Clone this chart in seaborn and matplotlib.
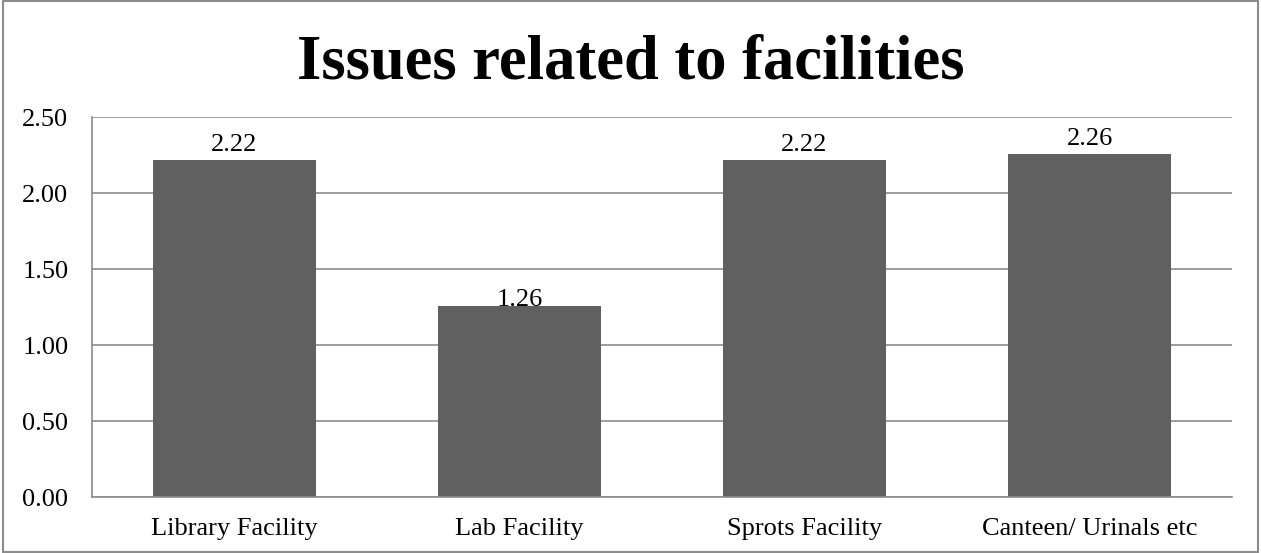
import matplotlib
matplotlib.use("Agg")
import matplotlib.pyplot as plt
import seaborn as sns
import pandas as pd
from matplotlib.patches import Rectangle

categories = ["Library Facility", "Lab Facility", "Sprots Facility", "Canteen/ Urinals etc"]
values = [2.22, 1.26, 2.22, 2.26]
yticks = [0.0, 0.5, 1.0, 1.5, 2.0, 2.5]

sns.set_theme(style="white")
plt.rcParams["font.family"] = ["Liberation Serif", "DejaVu Serif"]

df = pd.DataFrame({"category": categories, "value": values})

fig = plt.figure(figsize=(12.61, 5.53), dpi=100)
ax = fig.add_axes([0.073, 0.101, 0.904, 0.687])

sns.barplot(data=df, x="category", y="value", color="#606060", saturation=1,
            width=0.57, ax=ax)
for p in ax.patches:
    p.set_edgecolor("none")

ax.set_ylim(0, 2.5)
ax.set_xlim(-0.5, len(categories) - 0.5)
ax.set_yticks(yticks)
ax.set_yticklabels([f"{t:.2f}" for t in yticks], fontsize=19, color="black")
ax.tick_params(axis="x", labelsize=19, colors="black", length=0, pad=15)
ax.tick_params(axis="y", length=0, pad=17)
ax.set_xlabel("")
ax.set_ylabel("")

ax.yaxis.grid(True, color="#8c8c8c", linewidth=1.2)
ax.set_axisbelow(True)
for side in ["top", "right"]:
    ax.spines[side].set_visible(False)
for side in ["left", "bottom"]:
    ax.spines[side].set_color("#8c8c8c")
    ax.spines[side].set_linewidth(1.2)

# value labels sit just above each bar; the short bar's label tucks in closer
label_gap = [0.06, -0.005, 0.06, 0.06]
for i, v in enumerate(values):
    ax.text(i, v + label_gap[i], f"{v:.2f}", ha="center", va="baseline",
            fontsize=19, color="black")

fig.text(0.5, 0.886, "Issues related to facilities", ha="center", va="center",
         fontsize=45, fontweight="bold", color="black")

fig.patches.append(Rectangle((0.002, 0.002), 0.996, 0.996, transform=fig.transFigure,
                             fill=False, edgecolor="#8c8c8c", linewidth=1.5))

fig.savefig("out.png", dpi=100)
